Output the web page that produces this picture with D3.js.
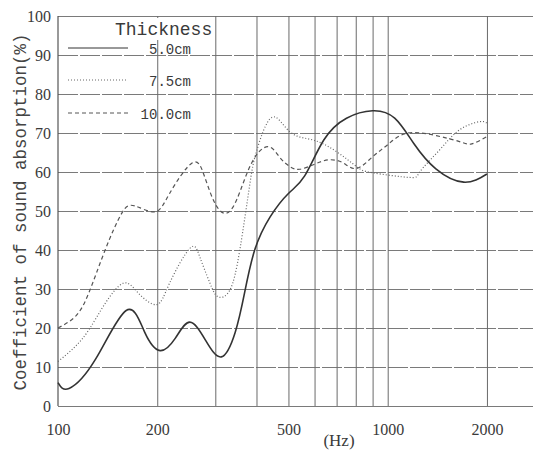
<!DOCTYPE html>
<html>
<head>
<meta charset="utf-8">
<script src="https://cdn.jsdelivr.net/npm/d3@7"></script>
<style>
  body { margin: 0; background: #fff; }
  svg { display: block; }
</style>
</head>
<body>
<div id="chart"></div>
<script>
// Frequencies (Hz) and absorption coefficient (%)
var freq5  = [100, 108, 130, 161, 183, 204, 227, 251, 280, 313, 345, 368, 395, 440, 500, 560, 640, 750, 900, 1050, 1200, 1400, 1700, 2000];
var val5   = [6, 4.5, 12, 24.5, 19, 14.2, 17.4, 21.5, 16.9, 12.6, 19, 29, 40, 48.5, 54.5, 59, 68.2, 73.8, 75.7, 73.8, 67.3, 60.8, 57.4, 59.5];

var freq75 = [100, 112, 124, 139, 158, 175, 199, 218, 251, 269, 289, 306, 332, 356, 382, 401, 445, 505, 594, 700, 804, 900, 1166, 1253, 1435, 1651, 1900, 2000];
var val75  = [11.4, 15, 19.5, 26.3, 31.5, 29, 26, 31.5, 40.4, 38.3, 31.5, 28, 29.7, 40, 57, 65.6, 74, 70.3, 68.2, 65.2, 61.4, 59.8, 58.6, 60.1, 65.6, 70.8, 72.9, 72.5];

var freq10 = [100, 113, 124, 139, 156, 171, 197, 218, 254, 276, 296, 320, 348, 386, 433, 470, 505, 541, 600, 660, 730, 804, 900, 1000, 1136, 1372, 1651, 1800, 2000];
var val10  = [20, 23, 29, 40, 49.4, 51.3, 49.8, 54.5, 62.2, 59.7, 52.8, 49.4, 52.8, 62.2, 66.5, 63.8, 61.4, 60.7, 62, 63.1, 62.4, 60.9, 63.9, 67, 69.9, 69.5, 67.8, 67.2, 69.1];

var seriesNames = ["5.0cm", "7.5cm", "10.0cm"];
var yTicks = [0, 10, 20, 30, 40, 50, 60, 70, 80, 90, 100];
var xTickLabels = [100, 200, 500, 1000, 2000];
var xGridValues = [200, 300, 400, 500, 600, 700, 800, 900, 1000, 2000];

var W = 533, H = 450;
var plotLeft = 58, plotTop = 16, plotBottom = 406, plotRight = 533;

var svg = d3.select("#chart").append("svg")
    .attr("width", W)
    .attr("height", H);

var x = d3.scaleLog().domain([100, 3000]).range([plotLeft, 545]);
var y = d3.scaleLinear().domain([0, 100]).range([plotBottom, plotTop]);

var ink = "#3a3a3a";
var gridCol = "#7a7a7a";

// horizontal grid + y labels
var yAxis = svg.append("g")
    .attr("transform", "translate(" + plotLeft + ",0)")
    .call(d3.axisLeft(y).tickValues(yTicks).tickSize(-(plotRight - plotLeft)).tickPadding(7));
yAxis.select(".domain").remove();
yAxis.selectAll(".tick line")
    .attr("stroke", gridCol)
    .attr("stroke-width", 1)
    .attr("stroke-dasharray", function(d) { return d === 0 || d === 100 ? null : "20,2"; });
yAxis.selectAll(".tick text")
    .attr("fill", ink)
    .attr("font-family", "'Liberation Serif', serif")
    .attr("font-size", 16);

// vertical grid
var xGrid = svg.append("g")
    .attr("transform", "translate(0," + plotBottom + ")")
    .call(d3.axisBottom(x).tickValues(xGridValues).tickSize(-(plotBottom - plotTop)).tickFormat(""));
xGrid.select(".domain").remove();
xGrid.selectAll(".tick line")
    .attr("stroke", "#6a6a6a")
    .attr("stroke-width", 1);

// x labels
var xAxis = svg.append("g")
    .attr("transform", "translate(0," + plotBottom + ")")
    .call(d3.axisBottom(x).tickValues(xTickLabels).tickSize(0).tickPadding(18).tickFormat(d3.format("d")));
xAxis.select(".domain").remove();
xAxis.selectAll(".tick text")
    .attr("fill", ink)
    .attr("font-family", "'Liberation Serif', serif")
    .attr("font-size", 16);

// frame: left axis line
svg.append("line")
    .attr("x1", plotLeft).attr("x2", plotLeft)
    .attr("y1", plotTop).attr("y2", plotBottom)
    .attr("stroke", "#555").attr("stroke-width", 1.2);

svg.append("text")
    .attr("x", 339).attr("y", 446)
    .attr("text-anchor", "middle")
    .attr("fill", ink)
    .attr("font-family", "'Liberation Serif', serif")
    .attr("font-size", 17)
    .text("(Hz)");

svg.append("text")
    .attr("transform", "translate(26,212) rotate(-90)")
    .attr("text-anchor", "middle")
    .attr("fill", "#444")
    .attr("font-family", "'Liberation Mono', monospace")
    .attr("font-size", 17.5)
    .text("Coefficient of sound absorption(%)");

// curves
var styles = [
    { dash: null, width: 1.6, color: "#333" },
    { dash: "1,2", width: 1.2, color: "#666" },
    { dash: "4,3", width: 1.2, color: "#555" }
];
var series = [
    freq5.map(function(f, i) { return [f, val5[i]]; }),
    freq75.map(function(f, i) { return [f, val75[i]]; }),
    freq10.map(function(f, i) { return [f, val10[i]]; })
];

var line = d3.line()
    .x(function(d) { return x(d[0]); })
    .y(function(d) { return y(d[1]); })
    .curve(d3.curveNatural);

svg.selectAll("path.curve")
    .data(series)
    .enter().append("path")
    .attr("class", "curve")
    .attr("d", line)
    .attr("fill", "none")
    .attr("stroke", function(d, i) { return styles[i].color; })
    .attr("stroke-width", function(d, i) { return styles[i].width; })
    .attr("stroke-dasharray", function(d, i) { return styles[i].dash; });

// legend
var legend = svg.append("g");
legend.append("rect")
    .attr("x", 112).attr("y", 18).attr("width", 100).attr("height", 22)
    .attr("fill", "#fff");
legend.append("text")
    .attr("x", 115).attr("y", 35)
    .attr("fill", ink)
    .attr("font-family", "'Liberation Mono', monospace")
    .attr("font-size", 18)
    .text("Thickness");

var legY = [48, 80, 113];
var item = legend.selectAll("g.item")
    .data(seriesNames)
    .enter().append("g")
    .attr("class", "item");
item.append("line")
    .attr("x1", 68).attr("x2", 128)
    .attr("y1", function(d, i) { return legY[i]; })
    .attr("y2", function(d, i) { return legY[i]; })
    .attr("stroke", function(d, i) { return styles[i].color; })
    .attr("stroke-width", 1)
    .attr("stroke-dasharray", function(d, i) { return styles[i].dash; });
item.append("text")
    .attr("x", 191)
    .attr("y", function(d, i) { return legY[i] + 6; })
    .attr("text-anchor", "end")
    .attr("fill", ink)
    .attr("font-family", "'Liberation Mono', monospace")
    .attr("font-size", 14)
    .text(function(d) { return d; });
</script>
</body>
</html>
